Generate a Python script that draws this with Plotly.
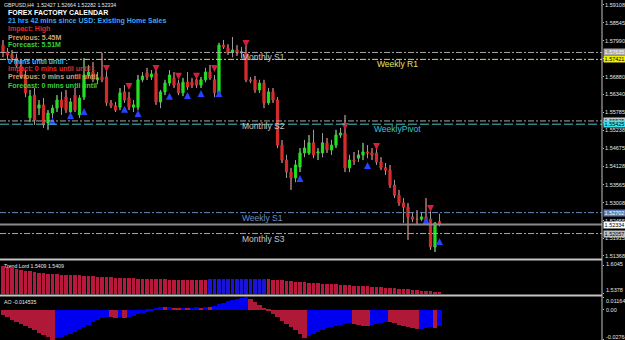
import plotly.graph_objects as go

# ---------------- data ----------------
opens = [1.5786,1.5765,1.5756,1.5746,1.5722,1.5688,1.5562,1.5632,1.5592,1.5602,
         1.5546,1.5577,1.5592,1.5617,1.5626,1.5580,1.5632,1.5571,1.5626,1.5694,
         1.5703,1.5679,1.5688,1.5688,1.5608,1.5599,1.5595,1.5642,1.5623,1.5595,
         1.5595,1.5679,1.5700,1.5688,1.5700,1.5611,1.5642,1.5669,1.5685,1.5669,
         1.5639,1.5672,1.5672,1.5679,1.5663,1.5679,1.5703,1.5679,1.5639,1.5786,
         1.5777,1.5765,1.5771,1.5762,1.5762,1.5679,1.5679,1.5648,1.5669,1.5608,
         1.5642,1.5617,1.5478,1.5432,1.5395,1.5377,1.5411,1.5454,1.5454,1.5485,
         1.5454,1.5454,1.5485,1.5463,1.5478,1.5509,1.5515,1.5408,1.5432,1.5438,
         1.5448,1.5457,1.5454,1.5454,1.5426,1.5408,1.5401,1.5355,1.5324,1.5300,
         1.5287,1.5257,1.5250,1.5250,1.5257,1.5250,1.5164,1.52427]
highs = [1.5802,1.5777,1.5771,1.5759,1.5740,1.5709,1.5648,1.5654,1.5617,1.5623,
         1.5586,1.5602,1.5632,1.5642,1.5648,1.5623,1.5654,1.5632,1.5746,1.5725,
         1.5734,1.5703,1.5762,1.5709,1.5617,1.5611,1.5654,1.5663,1.5642,1.5617,
         1.5694,1.5703,1.5716,1.5709,1.5716,1.5648,1.5679,1.5709,1.5703,1.5679,
         1.5685,1.5703,1.5685,1.5691,1.5688,1.5716,1.5725,1.5694,1.5793,1.5802,
         1.5789,1.5811,1.5786,1.5780,1.5786,1.5688,1.5691,1.5679,1.5679,1.5654,
         1.5654,1.5626,1.5494,1.5448,1.5408,1.5432,1.5469,1.5494,1.5509,1.5525,
         1.5469,1.5515,1.5500,1.5494,1.5525,1.5531,1.5571,1.5448,1.5457,1.5463,
         1.5485,1.5478,1.5469,1.5478,1.5441,1.5423,1.5417,1.5371,1.5340,1.5315,
         1.5300,1.5272,1.5278,1.5272,1.5315,1.5278,1.5241,1.52664]
lows = [1.5749,1.5740,1.5734,1.5716,1.5685,1.5626,1.5549,1.5540,1.5571,1.5531,
        1.5525,1.5562,1.5580,1.5571,1.5577,1.5571,1.5580,1.5562,1.5617,1.5685,
        1.5672,1.5666,1.5672,1.5599,1.5592,1.5580,1.5586,1.5608,1.5586,1.5580,
        1.5586,1.5672,1.5679,1.5679,1.5602,1.5592,1.5632,1.5660,1.5654,1.5632,
        1.5629,1.5648,1.5654,1.5654,1.5654,1.5672,1.5679,1.5626,1.5626,1.5774,
        1.5756,1.5749,1.5753,1.5746,1.5672,1.5669,1.5639,1.5639,1.5592,1.5602,
        1.5608,1.5469,1.5423,1.5377,1.5340,1.5364,1.5395,1.5441,1.5448,1.5438,
        1.5432,1.5441,1.5454,1.5448,1.5469,1.5500,1.5395,1.5395,1.5417,1.5426,
        1.5432,1.5438,1.5432,1.5417,1.5401,1.5386,1.5346,1.5315,1.5291,1.5238,
        1.5186,1.5241,1.5232,1.5244,1.5238,1.5155,1.5149,1.52282]
closes = [1.5765,1.5756,1.5746,1.5722,1.5694,1.5639,1.5629,1.5555,1.5602,1.5540,
          1.5577,1.5592,1.5617,1.5595,1.5586,1.5611,1.5586,1.5623,1.5694,1.5703,
          1.5679,1.5685,1.5679,1.5608,1.5599,1.5586,1.5639,1.5617,1.5595,1.5602,
          1.5679,1.5691,1.5688,1.5697,1.5611,1.5642,1.5669,1.5694,1.5663,1.5639,
          1.5672,1.5657,1.5663,1.5663,1.5679,1.5703,1.5685,1.5639,1.5786,1.5780,
          1.5762,1.5771,1.5762,1.5765,1.5679,1.5676,1.5648,1.5669,1.5608,1.5642,
          1.5617,1.5478,1.5432,1.5395,1.5377,1.5417,1.5454,1.5469,1.5485,1.5448,
          1.5457,1.5485,1.5463,1.5478,1.5509,1.5515,1.5408,1.5432,1.5429,1.5448,
          1.5457,1.5454,1.5448,1.5426,1.5408,1.5401,1.5355,1.5324,1.5300,1.5287,
          1.5257,1.5250,1.5250,1.5257,1.5244,1.5164,1.5238,1.52334]

trend_lord = [1.6045,1.6020,1.5996,1.5973,1.5951,1.5931,1.5913,1.5897,1.5883,1.5872,
              1.5862,1.5853,1.5845,1.5838,1.5831,1.5825,1.5820,1.5815,1.5810,1.5803,
              1.5796,1.5789,1.5782,1.5776,1.5770,1.5764,1.5759,1.5754,1.5749,1.5745,
              1.5741,1.5737,1.5733,1.5729,1.5725,1.5721,1.5718,1.5715,1.5712,1.5709,
              1.5706,1.5703,1.5701,1.5699,1.5698,1.5697,
              1.5728,1.5730,1.5732,1.5733,1.5734,1.5734,1.5734,1.5733,1.5732,1.5731,
              1.5730,1.5729,1.5728,
              1.5720,1.5712,1.5704,1.5695,1.5686,1.5677,1.5668,1.5659,1.5650,1.5642,
              1.5634,1.5626,1.5619,1.5612,1.5605,1.5598,1.5591,1.5584,1.5577,1.5570,
              1.5563,1.5556,1.5549,1.5542,1.5535,1.5527,1.5519,1.5511,1.5503,1.5494,
              1.5485,1.5476,1.5467,1.5458,1.5449,1.5440,1.5431,1.5420,1.5409]
trend_dir = ["dn"] * 46 + ["up"] * 13 + ["dn"] * 39

ao = [-0.0050,-0.0070,-0.0090,-0.0110,-0.0130,-0.0150,-0.0170,-0.0190,-0.0210,-0.0230,-0.0250,-0.02764,
      -0.0262,-0.0250,-0.0236,-0.0220,-0.0202,-0.0182,-0.0160,-0.0138,-0.0116,-0.0095,-0.0078,-0.0066,
      -0.0070,-0.0074,-0.0071,-0.0075,
      -0.0068,-0.0055,-0.0042,-0.0030,-0.0018,-0.0006,
      0.0012,0.0028,
      0.0022,0.0024,0.0020,0.0018,0.0020,0.0018,0.0020,0.0023,0.0021,0.0025,0.0022,
      0.0035,0.0050,0.0065,0.0078,0.0090,0.0100,0.0110,0.011644,
      0.0095,0.0070,0.0045,0.0018,
      -0.0010,-0.0040,-0.0070,-0.0100,-0.0130,-0.0160,-0.0190,-0.0220,-0.0256,
      -0.0245,-0.0225,-0.0205,-0.0185,-0.0170,-0.0158,-0.0148,-0.0140,-0.0133,-0.0125,
      -0.0135,-0.0142,-0.0146,-0.0148,
      -0.0138,-0.0128,-0.0118,-0.0110,
      -0.0115,-0.0125,-0.0138,-0.0150,-0.0162,-0.0172,-0.0180,
      -0.0175,-0.0168,-0.0162,
      -0.0168,
      -0.014535]

sell_idx = [23, 28, 34, 39, 43, 47, 54, 76, 83, 95]
sell_px = [1.5703, 1.5648, 1.5703, 1.5679, 1.5679, 1.5703, 1.5780, 1.5525, 1.5463, 1.5272]
buy_idx = [11, 15, 18, 27, 30, 37, 41, 44, 48, 66, 81, 94, 97]
buy_px = [1.5562, 1.5580, 1.5592, 1.5599, 1.5586, 1.5639, 1.5642, 1.5648, 1.5648, 1.5386, 1.5426, 1.5257, 1.5192]

level_names = ["Monthly S1", "Weekly R1", "Monthly S2", "WeeklyPivot", "Weekly S1", "Monthly S3"]
level_prices = [1.57635, 1.57421, 1.55525, 1.55425, 1.52702, 1.52057]
current_price = 1.52334

price_ticks = [1.59108, 1.58545, 1.57990, 1.57435, 1.56880, 1.56340, 1.55785, 1.55238,
               1.54675, 1.54128, 1.53565, 1.53008, 1.52455, 1.51915, 1.51368]
trend_ticks = [1.6045, 1.5378]
ao_ticks = [0.011644, 0.0, -0.02764]
ao_tick_text = ["0.011644", "0.00", "-0.02764"]

# ---------------- styling ----------------
W, H = 625, 340
PLOT_W = 602
FONT = "Liberation Sans"
GREEN = "#22e022"
RED = "#d82c2c"
WICK = "#9a9a9a"

level_styles = {
    "Monthly S1": ("#a8a8a8", "6px,2px,2px,2px", "#c8c8c8", 240, "#a8a8a8", "#ffffff"),
    "Weekly R1": ("#d8d860", "6px,2px,2px,2px", "#e4e46a", 375, "#f0f000", "#000000"),
    "Monthly S2": ("#a8a8a8", "6px,2px,2px,2px", "#c8c8c8", 240, "#c8c8c8", "#000000"),
    "WeeklyPivot": ("#48c4c8", "9px,3px", "#3cc4d4", 372, "#40e0e8", "#000000"),
    "Weekly S1": ("#6a88b8", "6px,2px,2px,2px", "#6f8fc8", 240, "#5b7fb4", "#ffffff"),
    "Monthly S3": ("#a8a8a8", "6px,2px,2px,2px", "#c8c8c8", 240, "#c0c0c0", "#000000"),
}

idx = list(range(len(opens)))
x_range = [-0.667, -0.667 + PLOT_W / 4.5]

fig = go.Figure()

fig.add_trace(go.Candlestick(
    x=idx, open=opens, high=highs, low=lows, close=closes,
    increasing=dict(line=dict(color=GREEN, width=1), fillcolor=GREEN),
    decreasing=dict(line=dict(color=RED, width=1), fillcolor=RED),
    whiskerwidth=0, xaxis="x", yaxis="y", hoverinfo="skip", showlegend=False))

# wick overlay (gray) outside the bodies
wx, wy = [], []
for i in idx:
    top = max(opens[i], closes[i])
    bot = min(opens[i], closes[i])
    wx += [i, i, None, i, i, None]
    wy += [highs[i], top, None, bot, lows[i], None]
fig.add_trace(go.Scatter(x=wx, y=wy, mode="lines", line=dict(color=WICK, width=1),
                         xaxis="x", yaxis="y", hoverinfo="skip", showlegend=False))

fig.add_trace(go.Scatter(x=sell_idx, y=sell_px, mode="markers",
                         marker=dict(symbol="arrow-down", size=7, color="#d0203c"),
                         xaxis="x", yaxis="y", hoverinfo="skip", showlegend=False))
fig.add_trace(go.Scatter(x=buy_idx, y=buy_px, mode="markers",
                         marker=dict(symbol="arrow-up", size=7, color="#2840ff"),
                         xaxis="x", yaxis="y", hoverinfo="skip", showlegend=False))

tl_colors = ["#1a14d8" if d == "up" else "#b8183c" for d in trend_dir]
fig.add_trace(go.Bar(x=idx, y=trend_lord, width=0.78, marker=dict(color=tl_colors, line=dict(width=0)),
                     xaxis="x2", yaxis="y2", hoverinfo="skip", showlegend=False))

ao_colors = []
for i, v in enumerate(ao):
    if i > 0 and v > ao[i - 1]:
        ao_colors.append("#0000f0")
    else:
        ao_colors.append("#b01838")
fig.add_trace(go.Bar(x=idx, y=ao, width=1.0, marker=dict(color=ao_colors, line=dict(width=0)),
                     xaxis="x3", yaxis="y3", hoverinfo="skip", showlegend=False))

axis_font = dict(family=FONT, size=5.5, color="#e6e6e6")
common_y = dict(side="right", showgrid=False, zeroline=False, showline=False,
                ticks="outside", ticklen=1, tickcolor="#c0c0c0", tickfont=axis_font,
                automargin=False, fixedrange=True)
common_x = dict(range=x_range, visible=False, showgrid=False, zeroline=False, automargin=False)


def py(p):
    return 1 - p / H


fig.update_layout(
    width=W, height=H, margin=dict(l=0, r=W - PLOT_W, t=0, b=0),
    paper_bgcolor="black", plot_bgcolor="black", showlegend=False,
    bargap=0, barmode="overlay",
    xaxis=dict(**common_x, anchor="y", rangeslider=dict(visible=False)),
    xaxis2=dict(**common_x, anchor="y2", matches="x"),
    xaxis3=dict(**common_x, anchor="y3", matches="x"),
    yaxis=dict(**common_y, domain=[py(258), 1], range=[1.51304, 1.5925], anchor="x",
               tickvals=price_ticks, ticktext=[f"{v:.5f}" for v in price_ticks]),
    yaxis2=dict(**common_y, domain=[py(294), py(261)], range=[1.5366, 1.6166], anchor="x2",
                tickvals=trend_ticks, showticklabels=False),
    yaxis3=dict(**common_y, domain=[0, py(297)], range=[-0.0279, 0.0118], anchor="x3",
                tickvals=ao_ticks, showticklabels=False),
)

shapes = []
annotations = []
for name, lvl in zip(level_names, level_prices):
    lc, dash, tc, tx, bg, fg = level_styles[name]
    shapes.append(dict(type="line", xref="paper", x0=0, x1=1, yref="y", y0=lvl, y1=lvl,
                       line=dict(color=lc, width=1, dash=dash)))
    annotations.append(dict(text=name, xref="paper", x=tx / PLOT_W, xanchor="left",
                            yref="y", y=lvl, yanchor="middle", yshift=-5, showarrow=False,
                            font=dict(family=FONT, size=8.5, color=tc)))
    annotations.append(dict(text=f"{lvl:.5f}", xref="paper", x=1, xanchor="left", xshift=1,
                            yref="y", y=lvl, yanchor="middle", showarrow=False,
                            bgcolor=bg, borderpad=0, width=21,
                            font=dict(family=FONT, size=5.5, color=fg)))

shapes.append(dict(type="line", xref="paper", x0=0, x1=1, yref="y", y0=current_price, y1=current_price,
                   line=dict(color="#8a8a8a", width=2)))
annotations.append(dict(text=f"{current_price:.5f}", xref="paper", x=1, xanchor="left", xshift=1,
                        yref="y", y=current_price, yanchor="middle", showarrow=False,
                        bgcolor="#ffffff", borderpad=0, width=21,
                        font=dict(family=FONT, size=5.5, color="#000000")))

# sub-pane scale labels (placed as MT4 draws them, inset from the pane edges)
sub_labels = [(264, f"{trend_ticks[0]:.4f}"), (290, f"{trend_ticks[1]:.4f}"),
              (301, ao_tick_text[0]), (310, ao_tick_text[1]), (336.5, ao_tick_text[2])]
for yy, t in sub_labels:
    annotations.append(dict(text=t, xref="paper", x=1, xanchor="left", xshift=2,
                            yref="paper", y=py(yy), yanchor="middle", showarrow=False,
                            font=axis_font))

# pane separators and right axis line
for sep in (259.5, 295.5):
    shapes.append(dict(type="line", xref="paper", x0=0, x1=1, yref="paper", y0=py(sep), y1=py(sep),
                       line=dict(color="#c4c4c4", width=2)))
shapes.append(dict(type="line", xref="paper", x0=1, x1=1, yref="paper", y0=0, y1=1,
                   line=dict(color="#c4c4c4", width=1)))

# top-left texts
texts = [
    (2, 5, "GBPUSD,H4  1.52427 1.52664 1.52282 1.52334", 5.2, "#e8e8e8", False),
    (6, 13, "FOREX FACTORY CALENDAR", 7, "#ffffff", True),
    (6, 21, "21 hrs 42 mins since USD: Existing Home Sales", 7, "#3aa8f0", True),
    (6, 29, "Impact: High", 7, "#e02828", True),
    (6, 37, "Previous: 5.45M", 7, "#d4a070", True),
    (6, 45, "Forecast: 5.51M", 7, "#38d038", True),
    (6, 61, "0 mins until until :", 7, "#4ab8e8", True),
    (6, 69, "Impact: 0 mins until until :", 7, "#e02828", True),
    (6, 77, "Previous: 0 mins until until", 7, "#d4a070", True),
    (6, 85, "Forecast: 0 mins until until", 7, "#38d038", True),
    (2, 266, "Trend Lord 1.5409 1.5409", 5.2, "#e8e8e8", False),
    (2, 302, "AO -0.014535", 5.2, "#e8e8e8", False),
]
for x, y, t, s, c, b in texts:
    annotations.append(dict(text=f"<b>{t}</b>" if b else t, xref="paper", x=x / PLOT_W, xanchor="left",
                            yref="paper", y=py(y), yanchor="middle", showarrow=False,
                            font=dict(family=FONT, size=s, color=c)))

fig.update_layout(shapes=shapes, annotations=annotations)
fig.write_html("out.html")
